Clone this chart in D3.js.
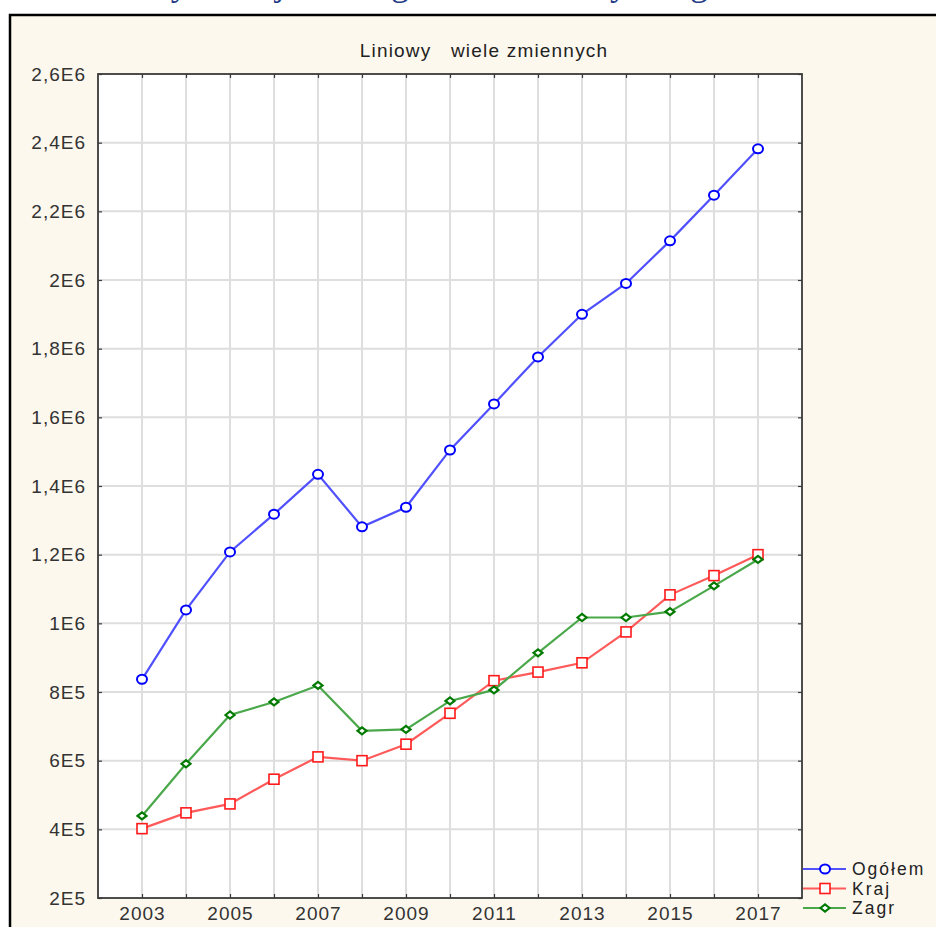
<!DOCTYPE html>
<html>
<head>
<meta charset="utf-8">
<script src="https://cdn.jsdelivr.net/npm/d3@7"></script>
<style>
  body { margin: 0; background: #fff; }
  svg { display: block; }
</style>
</head>
<body>
<div id="chart"></div>
<script>
// data
const years = [2003, 2004, 2005, 2006, 2007, 2008, 2009, 2010, 2011, 2012, 2013, 2014, 2015, 2016, 2017];
const ogolem = [837000, 1039000, 1208000, 1318000, 1434000, 1281000, 1338000, 1505000, 1639000, 1776000, 1900000, 1990000, 2114000, 2247000, 2382000];
const kraj = [402000, 448000, 474000, 546000, 611000, 600000, 648000, 738000, 833000, 858000, 885000, 975000, 1083000, 1139000, 1200000];
const zagr = [439000, 591000, 733000, 771000, 819000, 687000, 691000, 774000, 806000, 914000, 1017000, 1017000, 1034000, 1109000, 1186000];
const seriesNames = ["Ogółem", "Kraj", "Zagr"];
const yTicks = [200000, 400000, 600000, 800000, 1000000, 1200000, 1400000, 1600000, 1800000, 2000000, 2200000, 2400000, 2600000];
const yTickLabels = ["2E5", "4E5", "6E5", "8E5", "1E6", "1,2E6", "1,4E6", "1,6E6", "1,8E6", "2E6", "2,2E6", "2,4E6", "2,6E6"];
const xTickLabels = ["2003", "2005", "2007", "2009", "2011", "2013", "2015", "2017"];

const width = 936, height = 927;
const plot = { left: 98, right: 802, top: 74, bottom: 898 };
const sans = "Liberation Sans, Arial, sans-serif";

const svg = d3.select("#chart").append("svg")
  .attr("width", width)
  .attr("height", height);

// cream panel with black frame (top and left edges visible)
svg.append("rect")
  .attr("x", 10).attr("y", 15)
  .attr("width", width).attr("height", height)
  .attr("fill", "#fdf8ee");
svg.append("path")
  .attr("d", `M10,${height}V15H${width}`)
  .attr("fill", "none")
  .attr("stroke", "#000")
  .attr("stroke-width", 2.5);

// caption line above the frame, cut off by the page top: only descenders show
const cap = svg.append("text")
  .attr("y", -5)
  .attr("font-family", "Liberation Serif, serif")
  .attr("font-size", 36)
  .attr("fill", "#1f3b86");
[["Wykres", 139], ["jako", 275], ["ogółem", 373], ["ruchy", 546], ["zagraniczne", 658]]
  .forEach(([w, px]) => cap.append("tspan").attr("x", px).text(w));

const x = d3.scaleLinear().domain([2002, 2018]).range([plot.left, plot.right]);
const y = d3.scaleLinear().domain([200000, 2600000]).range([plot.bottom, plot.top]);

svg.append("rect")
  .attr("x", plot.left).attr("y", plot.top)
  .attr("width", plot.right - plot.left).attr("height", plot.bottom - plot.top)
  .attr("fill", "#fff");

// grid
const grid = svg.append("g").attr("stroke", "#dedede").attr("stroke-width", 2);
grid.selectAll(".vg").data(years).join("line")
  .attr("x1", d => x(d)).attr("x2", d => x(d))
  .attr("y1", plot.top).attr("y2", plot.bottom);
grid.selectAll(".hg").data(yTicks.slice(1, -1)).join("line")
  .attr("x1", plot.left).attr("x2", plot.right)
  .attr("y1", d => y(d)).attr("y2", d => y(d));

// axes with inward ticks on all four sides
const axisColor = "#3a3a3a";
function styleAxis(g) {
  g.select(".domain").remove();
  g.selectAll(".tick line").attr("stroke", axisColor).attr("stroke-width", 1.2);
  g.selectAll("text")
    .attr("font-family", sans)
    .attr("font-size", 19)
    .attr("letter-spacing", 1)
    .attr("fill", "#333");
}
svg.append("g").attr("transform", `translate(${plot.left},0)`)
  .call(d3.axisLeft(y).tickValues(yTicks).tickSize(-4).tickPadding(12)
    .tickFormat((d, i) => yTickLabels[i]))
  .call(styleAxis);
svg.append("g").attr("transform", `translate(${plot.right},0)`)
  .call(d3.axisRight(y).tickValues(yTicks).tickSize(-4).tickFormat(""))
  .call(styleAxis);
svg.append("g").attr("transform", `translate(0,${plot.bottom})`)
  .call(d3.axisBottom(x).tickValues(years).tickSize(-4).tickPadding(9)
    .tickFormat(d => xTickLabels.includes(String(d)) ? String(d) : ""))
  .call(styleAxis);
svg.append("g").attr("transform", `translate(0,${plot.top})`)
  .call(d3.axisTop(x).tickValues(years).tickSize(-4).tickFormat(""))
  .call(styleAxis);

svg.append("rect")
  .attr("x", plot.left).attr("y", plot.top)
  .attr("width", plot.right - plot.left).attr("height", plot.bottom - plot.top)
  .attr("fill", "none").attr("stroke", axisColor).attr("stroke-width", 1.8);

// title
svg.append("text")
  .attr("x", 484).attr("y", 57)
  .attr("text-anchor", "middle")
  .attr("font-family", sans)
  .attr("font-size", 19)
  .attr("letter-spacing", 1.2)
  .attr("fill", "#222")
  .attr("xml:space", "preserve")
  .text("Liniowy   wiele zmiennych");

const series = [
  { name: seriesNames[0], values: ogolem, line: "#5050ff", mark: "#0000ff", shape: "circle" },
  { name: seriesNames[1], values: kraj, line: "#ff5a5a", mark: "#ff1a1a", shape: "square" },
  { name: seriesNames[2], values: zagr, line: "#4aa84a", mark: "#007a00", shape: "diamond" }
];

function drawMarker(g, shape, color) {
  if (shape === "circle") {
    g.append("ellipse").attr("rx", 5).attr("ry", 4.5)
      .attr("fill", "#fff").attr("stroke", color).attr("stroke-width", 2);
  } else if (shape === "square") {
    g.append("rect").attr("x", -5).attr("y", -5).attr("width", 10).attr("height", 10)
      .attr("fill", "#fff").attr("stroke", color).attr("stroke-width", 1.6);
  } else {
    g.append("path").attr("d", "M-4.5,0L0,-3.5L4.5,0L0,3.5Z")
      .attr("fill", "#fff").attr("stroke", color).attr("stroke-width", 2.2);
  }
}

const line = d3.line().x(d => x(d[0])).y(d => y(d[1]));

series.forEach(s => {
  const pts = years.map((yr, i) => [yr, s.values[i]]);
  svg.append("path")
    .datum(pts)
    .attr("d", line)
    .attr("fill", "none")
    .attr("stroke", s.line)
    .attr("stroke-width", 2.2);
  svg.append("g").selectAll("g").data(pts).join("g")
    .attr("transform", d => `translate(${x(d[0])},${y(d[1])})`)
    .each(function () { drawMarker(d3.select(this), s.shape, s.mark); });
});

// legend
const legend = svg.append("g").attr("transform", "translate(803,869)");
series.forEach((s, i) => {
  const row = legend.append("g").attr("transform", `translate(0,${i * 19.5})`);
  row.append("line").attr("x1", 0).attr("x2", 43)
    .attr("stroke", s.line).attr("stroke-width", 2);
  drawMarker(row.append("g").attr("transform", "translate(22,0)"), s.shape, s.mark);
  row.append("text")
    .attr("x", 49).attr("y", 6)
    .attr("font-family", sans)
    .attr("font-size", 17.5)
    .attr("letter-spacing", 2)
    .attr("fill", "#222")
    .text(s.name);
});
</script>
</body>
</html>
